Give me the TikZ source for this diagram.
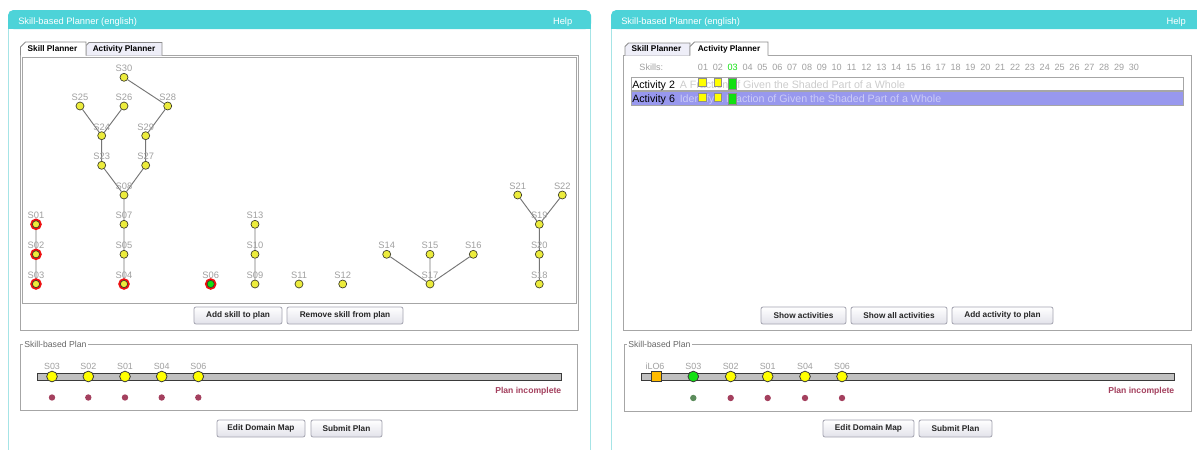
\documentclass[tikz,border=0pt]{standalone}
\usepackage{fontspec}
\setmainfont{Liberation Sans}
\newcommand\pxf[1]{\fontsize{#1pt}{#1pt}\selectfont}
\definecolor{hdr}{HTML}{4DD3D8}
\definecolor{frame}{HTML}{A6E4E6}
\definecolor{pgray}{HTML}{A6A6A6}
\definecolor{tabedge}{HTML}{8C8C8C}
\definecolor{tabbg}{HTML}{EEEEF8}
\definecolor{labgray}{HTML}{A0A0A0}
\definecolor{edgegray}{HTML}{767676}
\definecolor{nodeyel}{HTML}{ECEC3C}
\definecolor{nodeedge}{HTML}{3C3C28}
\definecolor{ringred}{HTML}{EE1111}
\definecolor{litgreen}{HTML}{11E011}
\definecolor{planyel}{HTML}{FFFF00}
\definecolor{plumred}{HTML}{A4405E}
\definecolor{dotgreen}{HTML}{5C8C5C}
\definecolor{barfill}{HTML}{C0C0C0}
\definecolor{barline}{HTML}{3A3A3A}
\definecolor{lobox}{HTML}{FFBB00}
\definecolor{rowsel}{HTML}{9898EE}
\definecolor{btnedge}{HTML}{A4A4B0}
\definecolor{btnbot}{HTML}{E2E2EA}
\definecolor{desc}{HTML}{CCCCCC}
\definecolor{descsel}{HTML}{CCCCF6}
\definecolor{titlegray}{HTML}{666666}
\pgfdeclarelayer{links}
\pgfsetlayers{links,main}
\begin{document}
\begin{tikzpicture}[x=0.75pt,y=-0.75pt,
  lab/.style={text=labgray,font=\pxf{7},inner sep=0pt,anchor=base},
  skill/.style={circle,draw=nodeedge,fill=nodeyel,minimum size=6pt,inner sep=0pt,line width=0.5pt},
  ringed/.style={skill,minimum size=5.4pt,preaction={draw=ringred,line width=3.1pt}},
  link/.style={draw=edgegray,line width=0.7pt},
  hdrtxt/.style={text=white,font=\pxf{7},inner sep=0pt},
  tabtxt/.style={font=\bfseries\pxf{6.2},inner sep=0pt,anchor=base},
  btn/.style={draw=btnedge,rounded corners=1.5pt,top color=white,bottom color=btnbot,
    font=\bfseries\pxf{6.2},text={black!85},minimum height=12.75pt,inner sep=0pt,line width=0.6pt},
  panel/.style={draw=pgray,line width=0.75pt},
  fstitle/.style={text=titlegray,font=\pxf{6.5},fill=white,inner sep=0.8pt,anchor=base west},
  plabel/.style={text=labgray,font=\pxf{6.7},inner sep=0pt,anchor=base},
  pskill/.style={circle,draw=barline,fill=planyel,minimum size=8pt,inner sep=0pt,line width=0.6pt},
  pdot/.style={circle,fill=plumred,minimum size=4.8pt,inner sep=0pt},
  warn/.style={text=plumred,font=\bfseries\pxf{6.45},inner sep=0pt,anchor=base east},
  num/.style={text=labgray,font=\pxf{6.8},inner sep=0pt,anchor=base},
  acttxt/.style={font=\pxf{8},inner sep=0pt,anchor=base west},
  skbox/.style={line width=0.4pt},
  bar/.style={fill=barfill,draw=barline,line width=0.75pt}]
\useasboundingbox (0,0) rectangle (1197,450);
\clip (0,0) rectangle (1197,450);
\begin{pgfonlayer}{links}
  \fill[white] (0,0) rectangle (1197,450);
\end{pgfonlayer}

% ================= left window: skill planner =================
\fill[hdr,rounded corners=4pt] (8,10) rectangle (591,29);
\fill[hdr] (8,20) rectangle (591,29);
\draw[frame,line width=0.75pt] (8.5,29) -- (8.5,450) (590.5,29) -- (590.5,450);
\node[hdrtxt,anchor=base west] (ttlL) at (18,24) {Skill-based Planner (english)};
\node[hdrtxt,anchor=base east] (helpL) at (572.5,24) {Help};

% tab panel
\draw[panel] (20.5,55.5) rectangle (578.5,330.5);
\draw[panel] (22,57) rectangle (576,303);
\filldraw[fill=tabbg,draw=tabedge,line width=0.6pt] (86,55.5) -- (86,45.5) -- (89,42.5) -- (162,42.5) -- (162,55.5);
\fill[white] (20.5,56.2) -- (20.5,47) -- (25.5,42) -- (86,42) -- (86,56.2) -- cycle;
\draw[tabedge,line width=0.6pt] (20.5,55.5) -- (20.5,47) -- (25.5,42) -- (86,42) -- (86,55.5);
\node[tabtxt] (tabSL) at (52.5,51.5) {Skill Planner};
\node[tabtxt] (tabAL) at (124,51.5) {Activity Planner};

% skill map
\foreach \n/\x/\y in {30/124/77.3, 25/80/106, 26/124/106, 28/167.7/106,
    24/101.7/135.7, 29/145.7/135.7, 23/101.7/165.3, 27/145.7/165.3,
    08/124/195, 07/124/224.3, 05/124/254.3,
    13/255/224.3, 10/255/254.3, 09/255/284, 11/299/284, 12/342.7/284,
    14/386.7/254.3, 15/430/254.3, 16/473.3/254.3, 17/430/284,
    21/517.7/195, 22/562.3/195, 19/539.3/224.3, 20/539.3/254.3, 18/539.3/284} {
  \node[lab] (l\n) at (\x,\y-5.4) {S\n};
  \node[skill] (s\n) at (\x,\y) {};
}
\foreach \n/\x/\y in {01/36/224.3, 02/36/254.3, 03/36/284, 04/124/284} {
  \node[lab] (l\n) at (\x,\y-5.4) {S\n};
  \node[ringed] (s\n) at (\x,\y) {};
}
\node[lab] (l06) at (210.7,278.6) {S06};
\node[ringed,fill=litgreen] (s06) at (210.7,284) {};

\begin{pgfonlayer}{links}
\draw[link] (s30) -- (s28) (s25) -- (s24) (s26) -- (s24) (s28) -- (s29)
  (s24) -- (s23) (s29) -- (s27) (s23) -- (s08) (s27) -- (s08)
  (s08) -- (s07) (s07) -- (s05) (s05) -- (s04)
  (s01) -- (s02) (s02) -- (s03)
  (s13) -- (s10) (s10) -- (s09)
  (s14) -- (s17) (s15) -- (s17) (s16) -- (s17)
  (s21) -- (s19) (s22) -- (s19) (s19) -- (s20) (s20) -- (s18);
\end{pgfonlayer}

\node[btn,minimum width=66pt] (addskill) at (238,315.5) {Add skill to plan};
\node[btn,minimum width=87pt] (remskill) at (345,315.5) {Remove skill from plan};

% plan
\draw[panel] (20.5,344.5) rectangle (577,410.5);
\node[fstitle] (planL) at (23,347.5) {Skill-based Plan};
\draw[bar] (37.5,373) rectangle (561,380);
\foreach \n/\x in {03/52,02/88.3,01/125,04/161.7,06/198.3} {
  \node[plabel] (pl\n) at (\x,369) {S\n};
  \node[pskill] (p\n) at (\x,376.5) {};
  \node[pdot] (pd\n) at (\x,397.5) {};
}
\node[warn] (incL) at (561.5,393.5) {Plan incomplete};
\node[btn,minimum width=66pt] (editL) at (261,428.5) {Edit Domain Map};
\node[btn,minimum width=53.25pt] (submitL) at (346.5,428.5) {Submit Plan};

% ================= right window: activity planner =================
\fill[hdr,rounded corners=4pt] (611,10) rectangle (1215,29);
\fill[hdr] (611,20) rectangle (1215,29);
\draw[frame,line width=0.75pt] (611.5,29) -- (611.5,450);
\node[hdrtxt,anchor=base west] (ttlR) at (621,24) {Skill-based Planner (english)};
\node[hdrtxt,anchor=base east] (helpR) at (1186,24) {Help};

\draw[panel] (623,55.5) rectangle (1191.5,330.5);
\filldraw[fill=tabbg,draw=tabedge,line width=0.6pt] (625,55.5) -- (625,46.5) -- (628.5,43) -- (690,43) -- (690,55.5);
\fill[white] (690,56.2) -- (690,46.5) -- (694.5,42) -- (768,42) -- (768,56.2) -- cycle;
\draw[tabedge,line width=0.6pt] (690,55.5) -- (690,46.5) -- (694.5,42) -- (768,42) -- (768,55.5);
\node[tabtxt] (tabSR) at (656.5,51.5) {Skill Planner};
\node[tabtxt] (tabAR) at (729,51.5) {Activity Planner};

% skill columns
\node[num] (skl) at (651.3,70.5) {Skills:};
\foreach \i in {1,2,4,5,...,30} {
  \node[num] (c\i) at ({703+(\i-1)*14.86},70.5) {\ifnum\i<10 0\fi\i};
}
\node[num,text=litgreen] (c3) at (732.7,70.5) {03};

% activity rows
\draw[fill=white,draw=pgray,line width=0.75pt] (631.5,77) rectangle (1183,90);
\draw[fill=rowsel,draw=pgray,line width=0.75pt] (631.5,91.5) rectangle (1183,105);
\node[acttxt] (a2) at (632,88.3) {Activity 2};
\node[acttxt,text=desc] (a2d) at (679.5,88.3) {A Fraction of Given the Shaded Part of a Whole};
\node[acttxt] (a6) at (632,102.8) {Activity 6};
\node[acttxt,text=descsel] (a6d) at (679.5,102.8) {Identify a Fraction of Given the Shaded Part of a Whole};
\foreach \yt in {78,93} {
  \filldraw[skbox,fill=planyel,draw={black!45}] (698.7,\yt) rectangle (706.2,\yt+8.5);
  \filldraw[skbox,fill=planyel,draw={black!45}] (714,\yt) rectangle (721.2,\yt+8.5);
  \filldraw[skbox,fill=litgreen,draw={black!45}] (728.3,\yt) rectangle (736,\yt+11.5);
}

\node[btn,minimum width=63.75pt] (showact) at (803.5,315.5) {Show activities};
\node[btn,minimum width=72pt] (showall) at (899,315.5) {Show all activities};
\node[btn,minimum width=75.75pt] (addact) at (1002.5,315.5) {Add activity to plan};

% plan
\draw[panel] (624.5,344.5) rectangle (1191.5,411);
\node[fstitle] (planR) at (627,347.5) {Skill-based Plan};
\draw[bar] (641,373) rectangle (1174,380);
\node[plabel] (qlo-l) at (655,369) {iLO6};
\node[draw=barline,fill=lobox,minimum size=7.5pt,inner sep=0pt,line width=0.6pt] (qlo) at (656.7,376.5) {};
\node[plabel] (ql03) at (693.3,369) {S03};
\node[pskill,fill=litgreen] (q03) at (693.3,376.5) {};
\node[pdot,fill=dotgreen] (qd03) at (693.3,398) {};
\foreach \n/\x in {02/730.7,01/767.7,04/805,06/842} {
  \node[plabel] (ql\n) at (\x,369) {S\n};
  \node[pskill] (q\n) at (\x,376.5) {};
  \node[pdot] (qd\n) at (\x,398) {};
}
\node[warn] (incR) at (1174.5,393.8) {Plan incomplete};
\node[btn,minimum width=68.25pt] (editR) at (868.5,428.5) {Edit Domain Map};
\node[btn,minimum width=54.75pt] (submitR) at (955.5,428.5) {Submit Plan};
\end{tikzpicture}
\end{document}
